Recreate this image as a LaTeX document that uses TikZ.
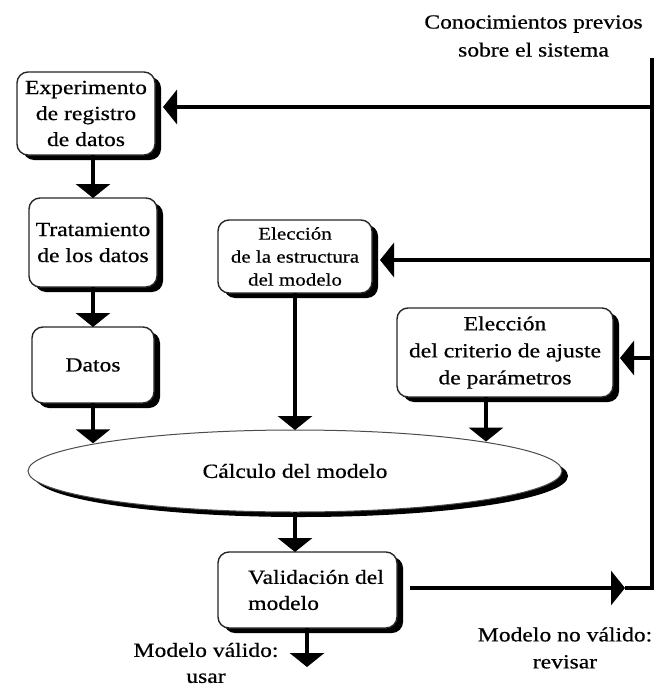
\documentclass[tikz,border=0pt]{standalone}
\usepackage{fontspec}
\setmainfont{Liberation Serif}[FakeStretch=1.18,FakeBold=0.6]
\usetikzlibrary{arrows.meta,shapes.geometric,shadows,calc}
\begin{document}
\begin{tikzpicture}[x=1pt,y=-1pt,
  shad/.style={drop shadow={shadow xshift=6pt,shadow yshift=-5pt,fill=black,opacity=1}},
  box/.style={draw=black!85,line width=1.4pt,rounded corners=11pt,fill=white,
    align=center,inner sep=2pt,outer sep=0pt,shad,font=\fontsize{20}{26}\selectfont},
  ell/.style={ellipse,draw=black!70,line width=1pt,fill=white,inner sep=0pt,
    outer sep=0pt,shad,font=\fontsize{20}{26}\selectfont},
  conn/.style={line width=4.5pt,line join=miter},
  arr/.style={conn,-{Triangle[width=34pt,length=14pt]}},
  lbl/.style={align=center,inner sep=0pt}]
\useasboundingbox (0,0) rectangle (656,690);

% boxes
\node[box,minimum width=138pt,minimum height=83pt] (exp) at (86,113.5) {Experimento\\de registro\\de datos};
\node[box,minimum width=128pt,minimum height=89pt] (trat) at (93,242.5) {Tratamiento\\de los datos};
\node[box,minimum width=122pt,minimum height=76pt] (datos) at (93,365) {Datos};
\node[box,minimum width=154pt,minimum height=73pt,font=\fontsize{17.8}{23}\selectfont] (estr) at (295,256.5) {Elección\\de la estructura\\del modelo};
\node[box,minimum width=216pt,minimum height=89pt,font=\fontsize{20}{27}\selectfont] (crit) at (505,352.5) {Elección\\del criterio de ajuste\\de parámetros};
\node[ell,minimum width=534pt,minimum height=82pt] (calcm) at (295,471) {Cálculo del modelo};
\node[box,minimum width=179pt,minimum height=76pt,align=left] (val) at (307.5,590) {\hspace*{17pt}Validación del\\\hspace*{17pt}modelo};

% labels
\node[lbl,font=\fontsize{20}{28}\selectfont] (kn) at (533.5,36) {Conocimientos previos\\sobre el sistema};
\node[lbl,font=\fontsize{20}{26}\selectfont] (ok) at (206,663) {Modelo válido:\\usar};
\node[lbl,font=\fontsize{20}{27}\selectfont] (nok) at (565,648) {Modelo no válido:\\revisar};

% coordinates
\coordinate (ktop) at (652,58);
\coordinate (k1) at (652,107);
\coordinate (k2) at (652,260);
\coordinate (k3) at (652,358);
\coordinate (kbot) at (652,588);
\coordinate (amid) at (625,588);
\coordinate (c3) at (486,397);
\coordinate (vout) at (307,667);

% connectors
\draw[conn] (amid) -- (kbot) -- (ktop);
\draw[arr,shorten <=13pt] (val.east |- amid) -- (amid);
\draw[arr] (k1) -- ($(k1 -| exp.east)+(8,0)$);
\draw[arr] (k2) -- ($(k2 -| estr.east)+(8,0)$);
\draw[arr] (k3) -- ($(k3 -| crit.east)+(7,0)$);
\draw[arr] (exp.south -| trat.north) -- (trat.north);
\draw[arr] (trat.south) -- (datos.north);
\draw[arr] (datos.south) -- (datos.south |- calcm.172);
\draw[arr] (estr.south) -- (calcm.north);
\draw[arr] (c3) -- (c3 |- calcm.9);
\draw[arr] (calcm.south) -- (calcm.south |- val.north);
\draw[arr] (val.south -| vout) -- (vout);
\end{tikzpicture}
\end{document}
